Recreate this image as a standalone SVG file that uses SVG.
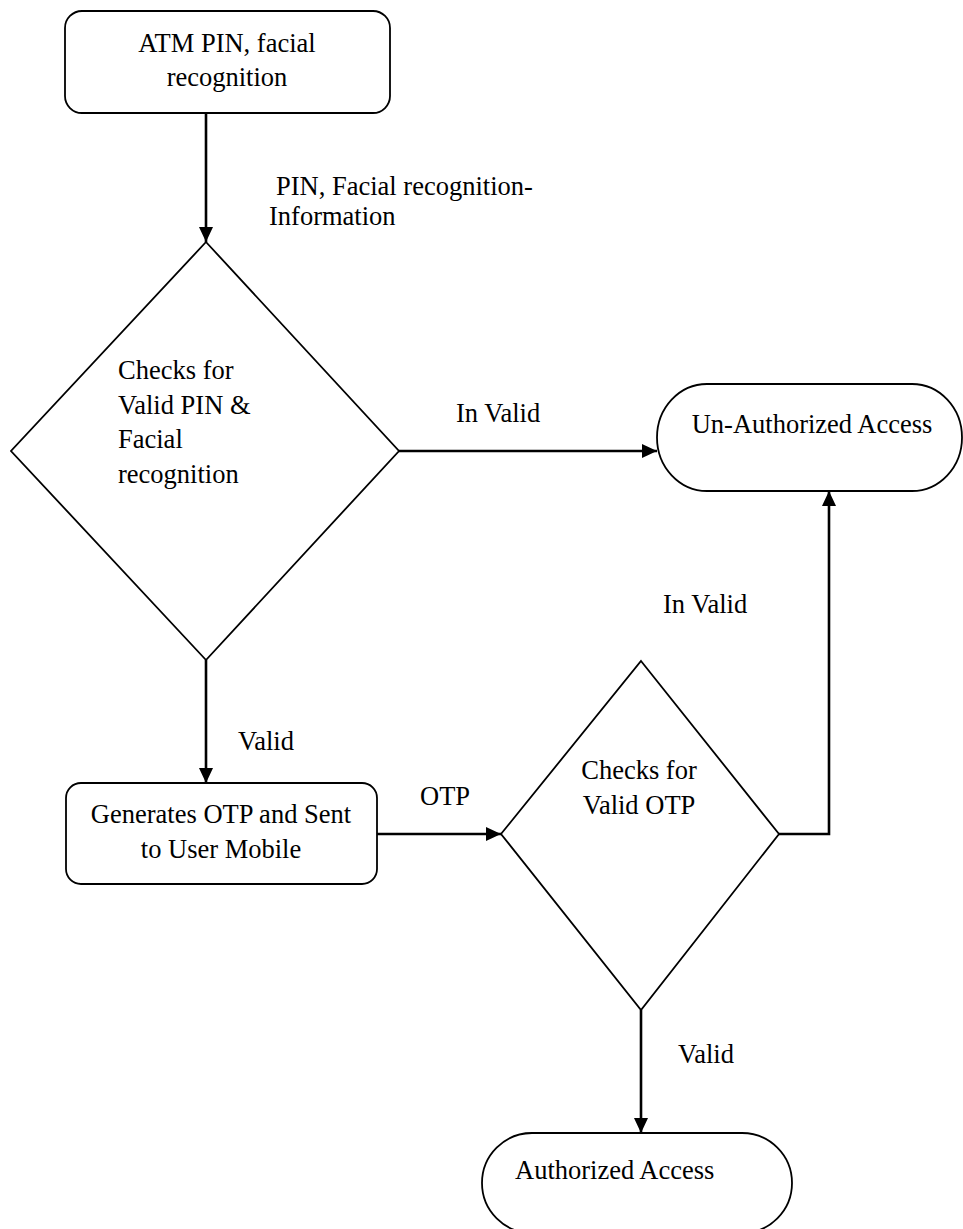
<svg xmlns="http://www.w3.org/2000/svg" width="963" height="1229" viewBox="0 0 963 1229">
<style>
.shape{fill:#fff;stroke:#000;stroke-width:1.8}
.conn{fill:none;stroke:#000;stroke-width:2.6}
text{font-family:"Liberation Serif","Times New Roman",serif;font-size:26.5px;fill:#000}
.c{text-anchor:middle}
</style>
<defs>
<marker id="arr" viewBox="0 0 15 14" refX="15" refY="7" markerWidth="15" markerHeight="14" markerUnits="userSpaceOnUse" orient="auto">
<path d="M0,0 L15,7 L0,14 Z" fill="#000"/>
</marker>
</defs>
<rect width="963" height="1229" fill="#fff"/>
<g id="connectors">
<line class="conn" x1="206" y1="113" x2="206" y2="242" marker-end="url(#arr)"/>
<line class="conn" x1="399" y1="451" x2="657" y2="451" marker-end="url(#arr)"/>
<line class="conn" x1="206" y1="660" x2="206" y2="783" marker-end="url(#arr)"/>
<line class="conn" x1="377" y1="834" x2="501" y2="834" marker-end="url(#arr)"/>
<polyline class="conn" points="779,834 829,834 829,491" marker-end="url(#arr)"/>
<line class="conn" x1="641" y1="1010" x2="641" y2="1133" marker-end="url(#arr)"/>
<text x="276" y="195">PIN, Facial recognition-</text>
<text x="269" y="225">Information</text>
<text x="456" y="422">In Valid</text>
<text x="663" y="613">In Valid</text>
<text x="238" y="750">Valid</text>
<text x="420" y="805">OTP</text>
<text x="678" y="1063">Valid</text>
</g>
<g id="start">
<rect class="shape" x="65" y="11" width="325" height="102" rx="17"/>
<text class="c" x="227" y="52">ATM PIN, facial</text>
<text class="c" x="227" y="86">recognition</text>
</g>
<g id="check1">
<polygon class="shape" points="206,242 399,451 206,660 11,451"/>
<text x="118" y="379">Checks for</text>
<text x="118" y="414">Valid PIN &amp;</text>
<text x="118" y="448">Facial</text>
<text x="118" y="483">recognition</text>
</g>
<g id="unauth">
<rect class="shape" x="657" y="384" width="305" height="107" rx="50" ry="53.5"/>
<text class="c" x="812" y="433">Un-Authorized Access</text>
</g>
<g id="otp">
<rect class="shape" x="66" y="783" width="311" height="101" rx="15"/>
<text class="c" x="221" y="823">Generates OTP and Sent</text>
<text class="c" x="221" y="858">to User Mobile</text>
</g>
<g id="check2">
<polygon class="shape" points="641,661 779,834 641,1010 501,834"/>
<text class="c" x="639" y="779">Checks for</text>
<text class="c" x="639" y="814">Valid OTP</text>
</g>
<g id="auth">
<rect class="shape" x="482" y="1133" width="310" height="100" rx="50" ry="50"/>
<text x="515" y="1179">Authorized Access</text>
</g>
</svg>
